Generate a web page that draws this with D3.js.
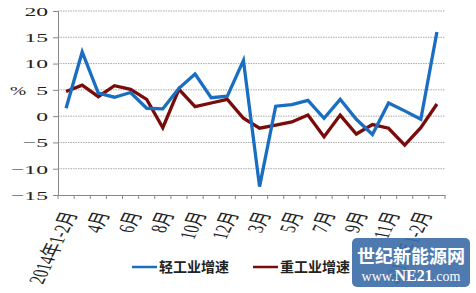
<!doctype html>
<html>
<head>
<meta charset="utf-8">
<script src="https://cdnjs.cloudflare.com/ajax/libs/d3/7.8.5/d3.min.js"></script>
<style>
  body { margin: 0; background: #fff; }
  text { font-family: "Liberation Serif", "Noto Sans CJK SC", serif; }
</style>
</head>
<body>
<div id="chart"></div>
<script>
// categories: monthly, 2014年1-2月 .. 2016年3月
const months = ["2014年1-2月","3月","4月","5月","6月","7月","8月","9月","10月","11月","12月",
  "2015年1-2月","3月","4月","5月","6月","7月","8月","9月","10月","11月","12月",
  "2016年1-2月","3月"];
// 轻工业增速 (%)
const light = [1.5, 12.2, 4.4, 3.6, 4.5, 1.5, 1.4, 5.3, 8.0, 3.5, 3.8, 10.6,
  -13.4, 1.9, 2.2, 3.0, -0.4, 3.2, -0.6, -3.5, 2.5, 1.0, -0.6, 16.0];
// 重工业增速 (%)
const heavy = [4.7, 5.9, 3.7, 5.8, 5.1, 3.2, -2.2, 5.1, 1.8, 2.5, 3.2, -0.4,
  -2.3, -1.7, -1.1, 0.2, -3.9, 0.2, -3.4, -1.6, -2.3, -5.5, -2.2, 2.3];
const yTicks = [-15, -10, -5, 0, 5, 10, 15, 20];

const W = 476, H = 293;
const svg = d3.select('#chart').append('svg').attr('width', W).attr('height', H);

const x = d3.scaleBand().domain(d3.range(months.length)).range([58, 445]);
const y = d3.scaleLinear().domain([-15, 20]).range([195, 11]);

// the source picture is stretched sideways, so text gets a horizontal scale
const sx = 1.75;

// grid
svg.append('g').selectAll('line').data(yTicks.filter(d => d > -15)).join('line')
  .attr('x1', 58).attr('x2', 445)
  .attr('y1', d => y(d)).attr('y2', d => y(d))
  .attr('stroke', '#aaa').attr('stroke-dasharray', '1.5,1');

// y axis
const yAxis = svg.append('g').attr('transform', 'translate(58,0)')
  .call(d3.axisLeft(y).tickValues(yTicks).tickSize(5)
    .tickFormat(d => d < 0 ? '\u2212' + Math.abs(d) : d));
yAxis.select('.domain').attr('stroke', '#888');
yAxis.selectAll('line').attr('stroke', '#888');
yAxis.selectAll('text').attr('font-size', 13.5).attr('fill', '#222')
  .attr('x', -10 / sx).attr('transform', `scale(${sx},1)`);

// x axis
const xAxis = svg.append('g').attr('transform', 'translate(0,195)')
  .call(d3.axisBottom(x).tickSize(0).tickFormat(''));
xAxis.select('.domain').attr('stroke', '#888');
svg.append('g').selectAll('line').data(d3.range(months.length + 1)).join('line')
  .attr('x1', i => 58 + i * x.step()).attr('x2', i => 58 + i * x.step())
  .attr('y1', 195).attr('y2', 199).attr('stroke', '#888');

svg.append('g').selectAll('text')
  .data(months.map((m, i) => [m, i]).filter(d => d[1] % 2 === 0)).join('text')
  .attr('transform', d => `translate(${x(d[1]) + x.bandwidth() / 2 + 4},212) scale(1.6,1) rotate(-73)`)
  .attr('text-anchor', 'end').attr('dy', '0.35em')
  .attr('font-size', 14).attr('fill', '#222')
  .text(d => d[0]);

// % label
svg.append('text').attr('transform', 'translate(10,95) scale(1.5,1)')
  .attr('font-size', 13).attr('fill', '#222').text('%');

// lines
const line = d3.line().x((d, i) => x(i) + x.bandwidth() / 2).y(d => y(d));
svg.append('path').datum(heavy).attr('d', line)
  .attr('fill', 'none').attr('stroke', '#7a0b0b').attr('stroke-width', 3.3);
svg.append('path').datum(light).attr('d', line)
  .attr('fill', 'none').attr('stroke', '#1a6ec1').attr('stroke-width', 3.3);

// legend
const lg = [["轻工业增速", '#1a6ec1', 132], ["重工业增速", '#7a0b0b', 253]];
lg.forEach(([t, c, lx]) => {
  svg.append('line').attr('x1', lx).attr('x2', lx + 25).attr('y1', 267).attr('y2', 267)
    .attr('stroke', c).attr('stroke-width', 2.5);
  svg.append('text').attr('x', lx + 27).attr('y', 272).attr('font-size', 14)
    .attr('font-weight', 'bold').attr('fill', '#222')
    .attr('font-family', '"Noto Sans CJK SC", serif').text(t);
});

// watermark
const wm = svg.append('g');
wm.append('rect').attr('x', 352).attr('y', 238).attr('width', 118).attr('height', 49)
  .attr('rx', 5).attr('fill', '#3f6fa8').attr('opacity', 0.92);
wm.append('text').attr('x', 411).attr('y', 263).attr('text-anchor', 'middle')
  .attr('font-size', 18).attr('font-weight', 'bold').attr('fill', '#fff')
  .attr('font-family', '"Noto Sans CJK SC", sans-serif').text('世纪新能源网');
wm.append('text').attr('x', 411).attr('y', 281).attr('text-anchor', 'middle')
  .attr('font-size', 14).attr('fill', '#fff')
  .attr('font-family', '"DejaVu Sans", sans-serif')
  .html('www.<tspan font-weight="bold" font-size="16">NE21</tspan>.com');
</script>
</body>
</html>
